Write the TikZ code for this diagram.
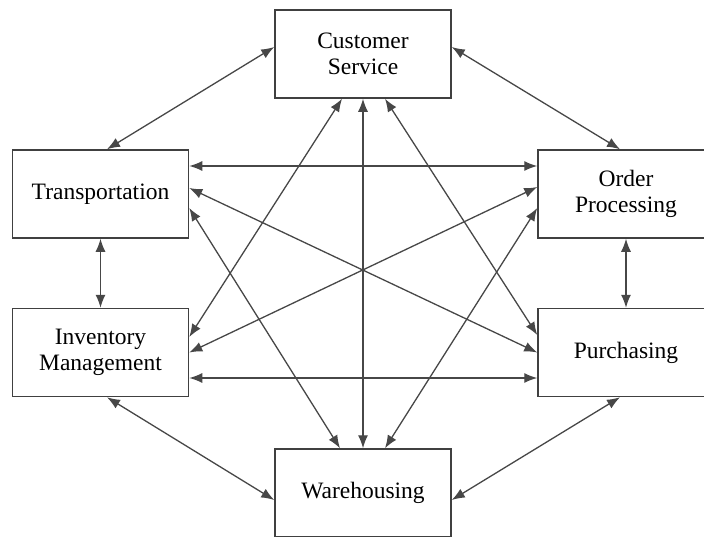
\documentclass[tikz,border=0pt]{standalone}
\usepackage{fontspec}
\setmainfont{Liberation Serif}
\usepackage{tikz}
\usetikzlibrary{positioning, arrows.meta, calc}

\begin{document}
\begin{tikzpicture}[
    x=1pt, y=-1pt,
    box/.style={draw=black!75, line width=1.5pt, fill=white, minimum width=176pt, minimum height=88pt,
        align=center, font=\fontsize{23.5}{26}\selectfont},
    link/.style={{Latex[length=13pt,width=10pt]}-{Latex[length=13pt,width=10pt]}, draw=black!72, line width=1.3pt}
]
    \useasboundingbox (0,0) rectangle (704,536);
    % Six functions of the logistics system
    \node[box] (cs) at (363,54) {Customer\\Service};
    \node[box] (tr) at (100.5,194) {Transportation};
    \node[box] (op) at (626,194) {Order\\Processing};
    \node[box] (im) at (100.5,352.5) {Inventory\\Management};
    \node[box] (pu) at (626,352.5) {Purchasing};
    \node[box] (wh) at (363,493) {Warehousing};

    % Every function talks to every other one
    \draw[link] ([yshift=7pt]cs.west) -- ([xshift=6.5pt]tr.north);
    \draw[link] ([yshift=7pt]cs.east) -- ([xshift=-6pt]op.north);
    \draw[link] ([yshift=28pt]tr.east) -- ([yshift=28pt]op.west);
    \draw[link] ([yshift=6pt]tr.east) -- (pu.west);
    \draw[link] ([yshift=-14pt]tr.east) -- ([xshift=-23pt]wh.north);
    \draw[link] ([yshift=7pt]op.west) -- (im.east);
    \draw[link] ([yshift=-14pt]op.west) -- ([xshift=22pt]wh.north);
    \draw[link] ([yshift=-25.5pt]im.east) -- ([yshift=-25.5pt]pu.west);
    \draw[link] ([yshift=15.5pt]im.east) -- ([xshift=-21pt]cs.south);
    \draw[link] ([yshift=17.5pt]pu.west) -- ([xshift=22pt]cs.south);
    \draw[link] (cs.south) -- (wh.north);
    \draw[link] (tr.south) -- (im.north);
    \draw[link] (op.south) -- (pu.north);
    \draw[link] ([xshift=6.5pt]im.south) -- ([yshift=-7pt]wh.west);
    \draw[link] ([xshift=-6pt]pu.south) -- ([yshift=-7pt]wh.east);
\end{tikzpicture}
\end{document}
